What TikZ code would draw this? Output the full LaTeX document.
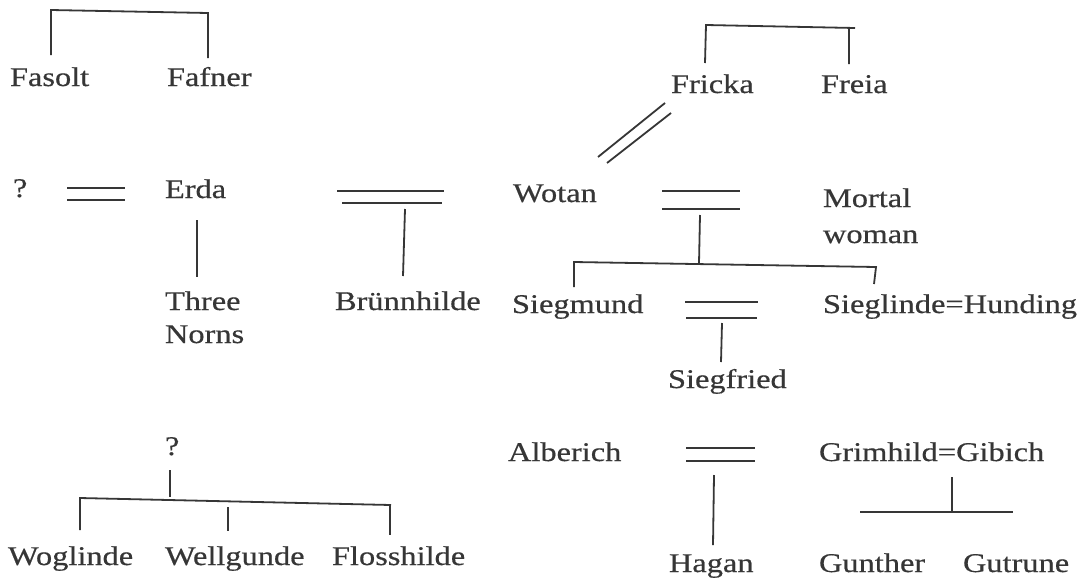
\documentclass[tikz,border=0pt]{standalone}
\usepackage{fontspec}
\setmainfont{Liberation Serif}[FakeStretch=1.2,FakeBold=0.5]
\definecolor{ink}{HTML}{363636}
\newcommand{\namefont}{\fontsize{27}{33}\selectfont}
\tikzset{
  person/.style={anchor=base west, inner sep=0pt, outer sep=0pt, text=ink, font=\namefont},
  tie/.style={draw=ink, line width=1.8pt, line cap=butt},
}
\begin{document}
\begin{tikzpicture}[x=1pt,y=-1pt]
\useasboundingbox[fill=white] (0,0) rectangle (1086,579);

% ---- names ----
\node[person] (fasolt) at (10,86) {Fasolt};
\node[person] (fafner) at (167,86) {Fafner};
\node[person] (fricka) at (671,93) {Fricka};
\node[person] (freia)  at (821,93) {Freia};

\node[person] (unk1) at (13,197) {?};
\node[person] (erda) at (165,198) {Erda};
\node[person] (three) at (165,310) {Three};
\node[person] (norns) at (165,343) {Norns};
\node[person] (bruenn) at (335,310) {Brünnhilde};

\node[person] (wotan) at (513,202) {Wotan};
\node[person] (mortal) at (823,207) {Mortal};
\node[person] (woman) at (823,243) {woman};
\node[person] (siegmund) at (512,313) {Siegmund};
\node[person] (sieglinde) at (823,313) {Sieglinde{=}Hunding};
\node[person] (siegfried) at (668,388) {Siegfried};

\node[person] (unk2) at (165,455) {?};
\node[person] (woglinde) at (8,565) {Woglinde};
\node[person] (wellgunde) at (165,565) {Wellgunde};
\node[person] (flosshilde) at (332,565) {Flosshilde};

\node[person] (alberich) at (508,461) {Alberich};
\node[person] (grimhild) at (819,461) {Grimhild{=}Gibich};
\node[person] (hagan) at (669,572) {Hagan};
\node[person] (gunther) at (819,572) {Gunther};
\node[person] (gutrune) at (963,572) {Gutrune};

% ---- connector points ----
% Fasolt / Fafner
\coordinate (faL) at (51,55);  \coordinate (faLt) at (51,10);
\coordinate (faRt) at (208,13); \coordinate (faR) at (208,58);
% Fricka / Freia
\coordinate (frL) at (705,63);  \coordinate (frLt) at (706,25);
\coordinate (frRe) at (855,28); \coordinate (frRt) at (849,28);
\coordinate (frR) at (849,64);
% Fricka = Wotan (diagonal)
\coordinate (fwA1) at (665,103); \coordinate (fwA2) at (598,157);
\coordinate (fwB1) at (671,113); \coordinate (fwB2) at (607,163);
% ? = Erda
\coordinate (qeA1) at (67,188);  \coordinate (qeA2) at (125,188);
\coordinate (qeB1) at (67,200);  \coordinate (qeB2) at (125,200);
% Erda -> Three Norns
\coordinate (enT) at (197,220);  \coordinate (enB) at (197,277);
% Erda = Wotan -> Bruennhilde
\coordinate (ewA1) at (337,191); \coordinate (ewA2) at (444,191);
\coordinate (ewB1) at (342,203); \coordinate (ewB2) at (442,203);
\coordinate (ebT) at (405,209);  \coordinate (ebB) at (403,276);
% Wotan = Mortal woman -> Siegmund, Sieglinde
\coordinate (wmA1) at (662,191); \coordinate (wmA2) at (740,191);
\coordinate (wmB1) at (662,209); \coordinate (wmB2) at (740,209);
\coordinate (wmT) at (700,215);  \coordinate (wmJ) at (699,263);
\coordinate (sbL) at (574,262);  \coordinate (sbR) at (876,267);
\coordinate (sgm) at (574,287);  \coordinate (sgl) at (874,284);
% Siegmund = Sieglinde -> Siegfried
\coordinate (ssA1) at (685,302); \coordinate (ssA2) at (758,302);
\coordinate (ssB1) at (686,318); \coordinate (ssB2) at (757,318);
\coordinate (sfT) at (722,323);  \coordinate (sfB) at (721,362);
% ? -> Rhinemaidens
\coordinate (rqT) at (170,470);  \coordinate (rqB) at (170,497);
\coordinate (rbL) at (80,498);   \coordinate (rbR) at (391,505);
\coordinate (rw1) at (80,530);
\coordinate (rw2t) at (228,507); \coordinate (rw2) at (228,531);
\coordinate (rw3t) at (390,505); \coordinate (rw3) at (390,535);
% Alberich = ... -> Hagan
\coordinate (ahA1) at (686,448); \coordinate (ahA2) at (755,448);
\coordinate (ahB1) at (686,461); \coordinate (ahB2) at (755,461);
\coordinate (haT) at (714,475);  \coordinate (haB) at (713,545);
% Grimhild = Gibich -> Gunther, Gutrune
\coordinate (ggT) at (952,477);  \coordinate (ggJ) at (952,512);
\coordinate (ggL) at (860,512);  \coordinate (ggR) at (1013,512);

% ---- connectors ----
\draw[tie] (faL) -- (faLt) -- (faRt) -- (faR);
\draw[tie] (frL) -- (frLt) -- (frRe) (frRt) -- (frR);
\draw[tie] (fwA1) -- (fwA2) (fwB1) -- (fwB2);
\draw[tie] (qeA1) -- (qeA2) (qeB1) -- (qeB2);
\draw[tie] (enT) -- (enB);
\draw[tie] (ewA1) -- (ewA2) (ewB1) -- (ewB2);
\draw[tie] (ebT) -- (ebB);
\draw[tie] (wmA1) -- (wmA2) (wmB1) -- (wmB2);
\draw[tie] (wmT) -- (wmJ);
\draw[tie] (sgm) -- (sbL) -- (sbR) -- (sgl);
\draw[tie] (ssA1) -- (ssA2) (ssB1) -- (ssB2);
\draw[tie] (sfT) -- (sfB);
\draw[tie] (rqT) -- (rqB);
\draw[tie] (rw1) -- (rbL) -- (rbR);
\draw[tie] (rw2t) -- (rw2);
\draw[tie] (rw3t) -- (rw3);
\draw[tie] (ahA1) -- (ahA2) (ahB1) -- (ahB2);
\draw[tie] (haT) -- (haB);
\draw[tie] (ggT) -- (ggJ);
\draw[tie] (ggL) -- (ggR);
\end{tikzpicture}
\end{document}
